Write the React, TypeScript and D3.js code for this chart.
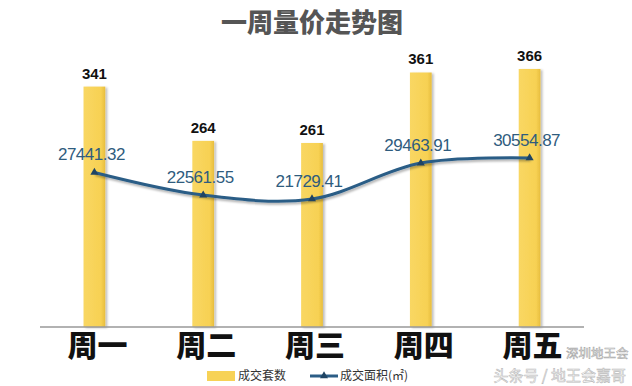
import React from "react";
import * as d3 from "d3";

const categories = ["周一", "周二", "周三", "周四", "周五"];
const units = [341, 264, 261, 361, 366];
const areas = [27441.32, 22561.55, 21729.41, 29463.91, 30554.87];
const areaLabels = ["27441.32", "22561.55", "21729.41", "29463.91", "30554.87"];
const title = "一周量价走势图";
const legendBar = "成交套数";
const legendLine = "成交面积(㎡)";
const watermark1 = "深圳地王会";
const watermark2 = "头条号 / 地王会嘉哥";

export default function App() {
  const W = 632, H = 386;
  const x = d3.scaleBand<string>().domain(categories).range([40, 584]).paddingInner(0.8).paddingOuter(0.4);
  const y = d3.scaleLinear().domain([0, 400]).range([327, 45]);
  const y2 = d3.scaleLinear().domain([20000, 32000]).range([207.0, 151.3]);
  const cx = (c: string) => (x(c) as number) + x.bandwidth() / 2;
  const pts: [number, number][] = categories.map((c, i) => [cx(c), y2(areas[i])]);
  const line = d3.line().curve(d3.curveCatmullRom.alpha(0.5))(pts) as string;
  const tri = d3.symbol().type(d3.symbolTriangle).size(28)() as string;
  const lineColor = "#2b5d86";
  const cjk = "'Noto Sans CJK SC', 'Noto Sans', sans-serif";
  const latin = "'Liberation Sans', Arial, sans-serif";

  return (
    <svg width={W} height={H} style={{ position: "absolute", left: 0, top: 0, background: "#fff" }}>
      <defs>
        <linearGradient id="barGrad" x1="0" x2="1" y1="0" y2="0">
          <stop offset="0" stopColor="#f9d763" />
          <stop offset="0.8" stopColor="#f7d153" />
          <stop offset="1" stopColor="#e7bd3e" />
        </linearGradient>
        <filter id="shadow" x="-30%" y="-10%" width="160%" height="120%">
          <feDropShadow dx="2" dy="1" stdDeviation="1.2" floodColor="#000" floodOpacity="0.25" />
        </filter>
        <filter id="lshadow" x="-5%" y="-30%" width="110%" height="160%">
          <feDropShadow dx="1" dy="2" stdDeviation="1.2" floodColor="#000" floodOpacity="0.3" />
        </filter>
      </defs>
      <rect width={W} height={H} fill="#fff" />
      <text x={312} y={32} textAnchor="middle" fontFamily={cjk} fontWeight={900} fontSize={26} fill="#555">
        {title}
      </text>
      {categories.map((c, i) => (
        <g key={c}>
          <rect x={x(c)} y={y(units[i])} width={x.bandwidth()} height={y(0) - y(units[i])} fill="url(#barGrad)" filter="url(#shadow)" />
          <text x={cx(c)} y={y(units[i]) - 8} textAnchor="middle" fontFamily={latin} fontWeight={700} fontSize={15} fill="#111">
            {units[i]}
          </text>
        </g>
      ))}
      <line x1={40} x2={584} y1={y(0)} y2={y(0)} stroke="#999" strokeWidth={1.5} />
      <path d={line} fill="none" stroke={lineColor} strokeWidth={3} filter="url(#lshadow)" />
      {pts.map((p, i) => (
        <path key={i} d={tri} transform={`translate(${p[0]},${p[1]})`} fill="#1f4463" />
      ))}
      {pts.map((p, i) => (
        <text key={"l" + i} x={p[0] - 3} y={p[1] - 12} textAnchor="middle" fontFamily={latin} fontSize={17} letterSpacing={-0.5} fill="#2f5c7e">
          {areaLabels[i]}
        </text>
      ))}
      {categories.map((c) => (
        <text key={"c" + c} x={cx(c) + 3} y={356} textAnchor="middle" fontFamily={cjk} fontWeight={900} fontSize={30} fill="#111">
          {c}
        </text>
      ))}
      <rect x={207} y={371} width={28} height={10} fill="#f7d256" />
      <text x={238} y={380} fontFamily={cjk} fontSize={12} fill="#333">{legendBar}</text>
      <line x1={310} x2={338} y1={376} y2={376} stroke={lineColor} strokeWidth={3} />
      <path d={tri} transform="translate(324,376)" fill="#1f4463" />
      <text x={340} y={380} fontFamily={cjk} fontSize={12} fill="#333">{legendLine}</text>
      <text x={566} y={358} fontFamily={cjk} fontSize={12.5} fill="#fff" stroke="#aaa" strokeWidth={0.6}>{watermark1}</text>
      <text x={626} y={381} textAnchor="end" fontFamily={cjk} fontSize={15} fill="#fff" stroke="#bbb" strokeWidth={0.6}>{watermark2}</text>
    </svg>
  );
}
